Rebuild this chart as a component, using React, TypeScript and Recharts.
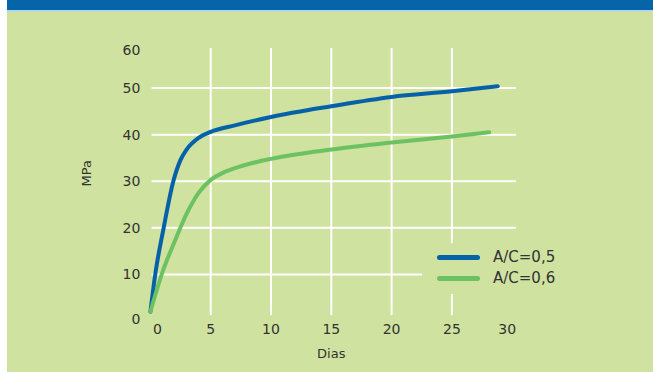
import React from "react";
import { LineChart, Line, XAxis, YAxis, ReferenceLine, Label } from "recharts";

// Compressive strength over curing time, two water/cement ratios
const blueDays = [0, 0.4, 1.1, 1.9, 2.5, 3, 4, 5, 7, 10, 15, 20, 25, 28.8];
const blueMPa = [2, 10, 20, 30, 34.6, 36.8, 39.3, 40.6, 42, 43.8, 46.1, 48.1, 49.3, 50.4];
const greenDays = [0, 1, 2, 3, 4, 5, 6, 7, 8.3, 10, 15, 20, 25, 28.1];
const greenMPa = [2, 10.5, 17, 23, 27.5, 30.3, 31.8, 32.8, 33.8, 34.8, 36.8, 38.3, 39.6, 40.5];

const seriesNames = ["A/C=0,5", "A/C=0,6"];
const xTicks = [0, 5, 10, 15, 20, 25, 30];
const yTicks = [0, 10, 20, 30, 40, 50, 60];
const gridX = [5, 10, 15, 20, 25];
const gridY = [10, 20, 30, 40, 50];

const BLUE = "#0561a8";
const GREEN = "#6cc262";
const PANEL = "#d0e29f";
const FONT = "'DejaVu Sans', Verdana, sans-serif";
const TEXT = "#333333";

const blueData = blueDays.map((d, i) => ({ day: d, v: blueMPa[i] }));
const greenData = greenDays.map((d, i) => ({ day: d, v: greenMPa[i] }));

const XTick = (props: any) => {
  const { x, y, payload } = props;
  const v = payload.value;
  const shift = v === 0 ? 7 : v === 30 ? -5 : 0;
  return (
    <text x={x + shift} y={y + 13} textAnchor="middle" fontSize={14} fontFamily={FONT} fill={TEXT}>
      {v}
    </text>
  );
};

const YTick = (props: any) => {
  const { x, y, payload } = props;
  const v = payload.value;
  const shift = v === 60 ? 8 : v === 0 ? -2 : 0;
  return (
    <text x={x - 10} y={y + shift + 5} textAnchor="end" fontSize={14} fontFamily={FONT} fill={TEXT}>
      {v}
    </text>
  );
};

const XTitle = (props: any) => {
  const vb = props.viewBox;
  return (
    <text x={vb.x + vb.width / 2} y={vb.y + 37} textAnchor="middle" fontSize={13} fontFamily={FONT} fill={TEXT}>
      Dias
    </text>
  );
};

const YTitle = (props: any) => {
  const vb = props.viewBox;
  const cx = vb.x + vb.width - 64;
  const cy = vb.y + vb.height / 2 - 8;
  return (
    <text
      x={cx}
      y={cy}
      transform={`rotate(-90 ${cx} ${cy})`}
      textAnchor="middle"
      dominantBaseline="central"
      fontSize={13}
      fontFamily={FONT}
      fill={TEXT}
    >
      MPa
    </text>
  );
};

const LegendBox = () => (
  <div style={{ position: "absolute", left: 422, top: 243, width: 143, height: 51, background: PANEL }}>
    {[BLUE, GREEN].map((c, i) => (
      <div key={i} style={{ position: "absolute", left: 15, top: 6 + i * 21, display: "flex", alignItems: "center" }}>
        <div style={{ width: 43, height: 5, borderRadius: 3, background: c }} />
        <span style={{ marginLeft: 13, fontFamily: FONT, fontSize: 15, color: TEXT, lineHeight: "16px" }}>
          {seriesNames[i]}
        </span>
      </div>
    ))}
  </div>
);

export default function App() {
  return (
    <div style={{ position: "fixed", left: 0, top: 0, width: 653, height: 372, background: "#ffffff", overflow: "hidden" }}>
      <div style={{ position: "absolute", left: 7, top: 0, width: 646, height: 10, background: "#0665a9" }} />
      <div style={{ position: "absolute", left: 7, top: 10, width: 646, height: 2, background: "#b9d6e3" }} />
      <div style={{ position: "absolute", left: 7, top: 12, width: 646, height: 360, background: PANEL }} />
      <div style={{ position: "absolute", left: 0, top: 0 }}>
        <LineChart width={653} height={372} margin={{ top: 41.5, right: 140.8, bottom: 21, left: 90.4 }}>
          <XAxis
            type="number"
            dataKey="day"
            domain={[0, 30]}
            ticks={xTicks}
            axisLine={false}
            tickLine={false}
            tickSize={0}
            tickMargin={0}
            height={30}
            tick={<XTick />}
            interval={0}
          >
            <Label content={<XTitle />} />
          </XAxis>
          <YAxis
            type="number"
            dataKey="v"
            domain={[0, 60]}
            ticks={yTicks}
            axisLine={false}
            tickLine={false}
            tickSize={0}
            tickMargin={0}
            width={60}
            tick={<YTick />}
            interval={0}
          >
            <Label content={<YTitle />} />
          </YAxis>
          {gridY.map((v) => (
            <ReferenceLine key={"h" + v} stroke="#ffffff" strokeWidth={2} segment={[{ x: 0.1, y: v }, { x: 30.3, y: v }]} ifOverflow="visible" />
          ))}
          {gridX.map((v) => (
            <ReferenceLine key={"v" + v} stroke="#ffffff" strokeWidth={2} segment={[{ x: v, y: 1.3 }, { x: v, y: 58.6 }]} ifOverflow="visible" />
          ))}
          <Line data={blueData} dataKey="v" name={seriesNames[0]} type="monotone" stroke={BLUE} strokeWidth={4} dot={false} strokeLinecap="round" isAnimationActive={false} />
          <Line data={greenData} dataKey="v" name={seriesNames[1]} type="monotone" stroke={GREEN} strokeWidth={4} dot={false} strokeLinecap="round" isAnimationActive={false} />
        </LineChart>
      </div>
      <LegendBox />
    </div>
  );
}
